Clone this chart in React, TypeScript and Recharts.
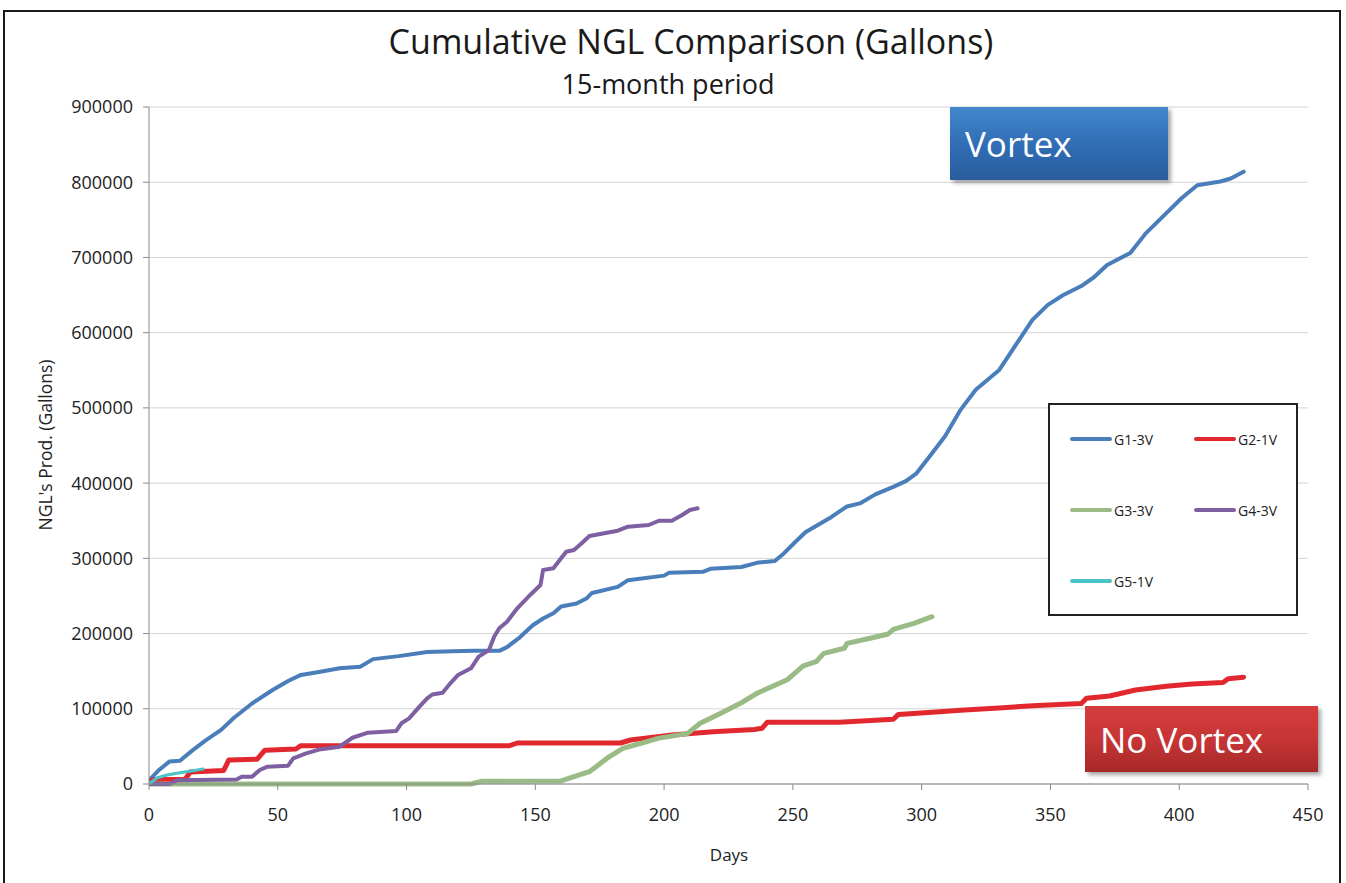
import React from 'react';
import { LineChart, Line, XAxis, YAxis, CartesianGrid } from 'recharts';

// [day, cumulative gallons]
const g1: [number, number][] = [
  [0, 5000], [4, 19000], [8, 30000], [12, 31000], [17, 45000], [22, 58000], [28, 72000],
  [33, 88000], [40, 107000], [48, 125000], [54, 137000], [59, 145000], [66, 149000],
  [74, 154000], [82, 156000], [87, 166000], [97, 170000], [108, 175500], [118, 176500],
  [126, 177000], [136, 177000], [139, 182000], [144, 195000], [149, 211000], [153, 220000],
  [157, 227000], [160, 236000], [166, 240000], [170, 247000], [172, 254000], [182, 262000],
  [186, 271000], [200, 277000], [202, 281000], [215, 282000], [218, 286000], [230, 288500],
  [236, 294000], [243, 296500], [246, 305000], [251, 322000], [255, 335000], [265, 355000],
  [271, 369000], [276, 373000], [282, 385000], [289, 395000], [294, 403000], [298, 413000],
  [303, 435000], [309, 462000], [315, 497000], [321, 524000], [330, 550000], [337, 586000],
  [343, 617000], [349, 637000], [355, 650000], [362, 662000], [367, 674000], [372, 690000],
  [381, 706000], [387, 732000], [395, 759000], [401, 779000], [407, 796000], [416, 801000],
  [420, 805000], [425, 814000],
];

const g2: [number, number][] = [
  [0, 3000], [2, 6000], [14, 6000], [16, 16000], [29, 18000], [31, 32000], [42, 33000],
  [45, 45000], [57, 46500], [59, 51000], [140, 51000], [143, 54500], [183, 54500],
  [187, 58500], [195, 62000], [203, 65000], [219, 69500], [235, 72500], [238, 74000],
  [240, 82000], [268, 82000], [289, 86000], [291, 92500], [307, 96000], [315, 98000],
  [330, 101000], [345, 104500], [362, 107000], [364, 114000], [373, 117000], [383, 125000],
  [395, 130000], [405, 133000], [417, 135000], [419, 140000], [425, 142000],
];

const g3: [number, number][] = [
  [0, 0], [125, 0], [129, 3500], [160, 4000], [165, 9700], [171, 16400], [178, 34600],
  [184, 47500], [191, 54000], [198, 61000], [209, 67000], [214, 80700], [222, 94000],
  [230, 108000], [236, 120500], [248, 139000], [254, 157000], [259, 162600], [262, 173700],
  [270, 180400], [271, 187000], [280, 193700], [287, 199400], [289, 205600], [297, 213600],
  [304, 222400],
];

const g4: [number, number][] = [
  [0, 0], [8, 0], [11, 5000], [34, 6000], [36, 9700], [40, 9700], [43, 18600], [46, 23000],
  [54, 24300], [56, 34100], [61, 40800], [66, 45800], [74, 49600], [79, 61500], [85, 68200],
  [96, 70500], [98, 80700], [101, 87300], [105, 102800], [108, 113900], [110, 119000],
  [114, 121400], [117, 133900], [120, 145000], [125, 153800], [128, 169300], [132, 178100],
  [134, 195800], [136, 207000], [139, 215800], [143, 233600], [148, 251300], [152, 264500],
  [153, 284500], [157, 286700], [160, 300000], [162, 308800], [165, 311000], [168, 320000],
  [171, 329700], [182, 336700], [186, 342000], [194, 344300], [198, 350000], [203, 350000],
  [207, 357600], [210, 364300], [213, 366500],
];

const g5: [number, number][] = [
  [0, 0], [3, 8000], [7, 12000], [12, 15000], [17, 17700], [21, 20000],
];

const xTicks = [0, 50, 100, 150, 200, 250, 300, 350, 400, 450];
const yTicks = [0, 100000, 200000, 300000, 400000, 500000, 600000, 700000, 800000, 900000];

const series = [
  { name: 'G1-3V', pts: g1, color: '#4a7ebb', width: 4 },
  { name: 'G2-1V', pts: g2, color: '#e2282f', width: 5 },
  { name: 'G3-3V', pts: g3, color: '#9bbb86', width: 5 },
  { name: 'G4-3V', pts: g4, color: '#7e60a2', width: 4 },
  { name: 'G5-1V', pts: g5, color: '#4bc4c8', width: 3 },
];

const font = '"Open Sans", sans-serif';

const toRows = (pts: [number, number][]) => pts.map(([day, v]) => ({ day, v }));

function LegendBox() {
  const cells = [
    { s: series[0], x: 20, y: 34 },
    { s: series[1], x: 144, y: 34 },
    { s: series[2], x: 20, y: 105 },
    { s: series[3], x: 144, y: 105 },
    { s: series[4], x: 20, y: 176 },
  ];
  return (
    <div
      style={{
        position: 'absolute', left: 1048, top: 403, width: 246, height: 209,
        border: '2px solid #222', background: '#fff', fontFamily: font, fontSize: 14, color: '#222',
      }}
    >
      {cells.map(({ s, x, y }) => (
        <div key={s.name} style={{ position: 'absolute', left: x, top: y - 10, display: 'flex', alignItems: 'center', height: 20 }}>
          <div style={{ width: 42, height: 4, borderRadius: 2, background: s.color }} />
          <span style={{ marginLeft: 2 }}>{s.name}</span>
        </div>
      ))}
    </div>
  );
}

export default function App() {
  return (
    <div style={{ position: 'fixed', left: 0, top: 0, width: 1346, height: 883, background: '#fff', overflow: 'hidden', fontFamily: font }}>
      <div style={{ position: 'absolute', left: 3, top: 10, width: 1334, height: 900, border: '2px solid #1a1a1a' }} />
      <div style={{ position: 'absolute', left: 0, width: 1382, top: 18, textAlign: 'center', fontSize: 34, color: '#1a1a1a' }}>
        Cumulative NGL Comparison (Gallons)
      </div>
      <div style={{ position: 'absolute', left: 0, width: 1336, top: 65, textAlign: 'center', fontSize: 27, color: '#1a1a1a' }}>
        15-month period
      </div>

      <div style={{ position: 'absolute', left: 0, top: 0 }}>
        <LineChart width={1346} height={883} margin={{ top: 107, right: 38, bottom: 39, left: 49 }}>
          <CartesianGrid stroke="#d4d4d4" vertical={false} />
          <XAxis
            type="number"
            dataKey="day"
            domain={[0, 450]}
            ticks={xTicks}
            allowDataOverflow
            height={60}
            stroke="#8a8a8a"
            tickSize={6}
            tickMargin={18}
            tick={{ fill: '#222', fontSize: 18, fontFamily: font }}
          />
          <YAxis
            type="number"
            domain={[0, 900000]}
            ticks={yTicks}
            width={100}
            stroke="#8a8a8a"
            tickSize={6}
            tickMargin={10}
            tick={{ fill: '#222', fontSize: 18, fontFamily: font }}
          />
          {series.map((s) => (
            <Line
              key={s.name}
              data={toRows(s.pts)}
              dataKey="v"
              name={s.name}
              type="linear"
              stroke={s.color}
              strokeWidth={s.width}
              strokeLinejoin="round"
              strokeLinecap="round"
              dot={false}
              isAnimationActive={false}
            />
          ))}
        </LineChart>
      </div>

      <div style={{ position: 'absolute', left: 0, top: 0, width: 90, height: 883 }}>
        <div
          style={{
            position: 'absolute', left: 45, top: 445, transform: 'translate(-50%, -50%) rotate(-90deg)',
            whiteSpace: 'nowrap', fontSize: 17.5, color: '#222',
          }}
        >
          NGL's Prod. (Gallons)
        </div>
      </div>
      <div style={{ position: 'absolute', left: 629, width: 200, top: 843, textAlign: 'center', fontSize: 17, color: '#222' }}>
        Days
      </div>

      <LegendBox />

      <div
        style={{
          position: 'absolute', left: 950, top: 107, width: 218, height: 73,
          background: 'linear-gradient(#4287cc, #2f6cb3 55%, #2a5d9c)',
          boxShadow: '3px 3px 4px rgba(0,0,0,0.35)', color: '#fff', fontSize: 35,
          display: 'flex', alignItems: 'center', paddingLeft: 15, boxSizing: 'border-box',
        }}
      >
        Vortex
      </div>
      <div
        style={{
          position: 'absolute', left: 1085, top: 706, width: 233, height: 66,
          background: 'linear-gradient(#d63d3d, #c53434 55%, #a52828)',
          boxShadow: '3px 3px 4px rgba(0,0,0,0.35)', color: '#fff', fontSize: 35,
          display: 'flex', alignItems: 'center', paddingLeft: 15, boxSizing: 'border-box',
        }}
      >
        No Vortex
      </div>
    </div>
  );
}
